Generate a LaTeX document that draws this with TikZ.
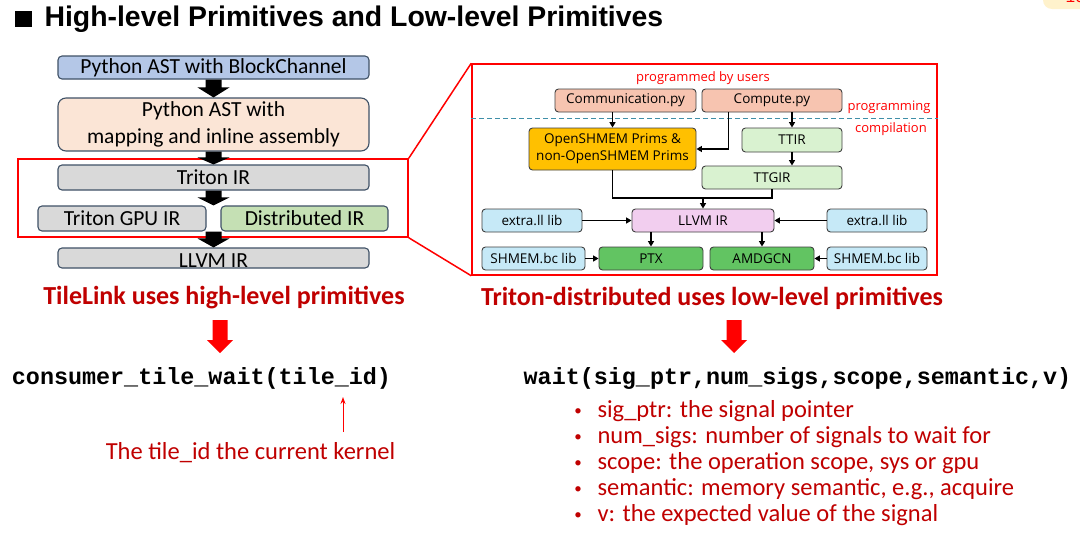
\documentclass[tikz,border=0pt]{standalone}
\usepackage{fontspec}
\setmainfont{Carlito}
\newfontfamily\headfont{Liberation Sans}
\newfontfamily\flowfont{Open Sans}
\newfontfamily\codefont{Liberation Mono}
\usepackage{xcolor}
\usepackage{tikz}
\usetikzlibrary{calc,arrows.meta}
\definecolor{edge}{HTML}{3F5166}
\definecolor{astblue}{HTML}{B4C7E7}
\definecolor{peach}{HTML}{FBE5D6}
\definecolor{irgray}{HTML}{D9D9D9}
\definecolor{irgreen}{HTML}{C5E0B4}
\definecolor{rim}{HTML}{404040}
\definecolor{salmon}{HTML}{F7C4B0}
\definecolor{prims}{HTML}{FFC000}
\definecolor{mint}{HTML}{D9F2D0}
\definecolor{lilac}{HTML}{F2CEEF}
\definecolor{sky}{HTML}{C6E9F7}
\definecolor{leaf}{HTML}{62C462}
\definecolor{darkred}{HTML}{C00000}
\definecolor{alert}{HTML}{FF0000}
\definecolor{teal}{HTML}{3F8FA8}
\definecolor{cream}{HTML}{FFF2CC}
\tikzset{
  lbox/.style={draw=edge, line width=1.1pt, rounded corners=4pt, inner sep=0pt, text=black, font=\fontsize{21.5}{27}\selectfont},
  rbox/.style={draw=rim, line width=0.9pt, rounded corners=3.5pt, inner sep=0pt, text=black, font=\flowfont\fontsize{13.5}{16}\selectfont},
  frame/.style={draw=alert, line width=1.5pt, inner sep=0pt},
  conn/.style={draw=black, line width=1.6pt, -{Triangle[length=5.5pt,width=6pt]}},
  wire/.style={draw=black, line width=1.6pt},
  note/.style={text=alert, font=\flowfont\fontsize{13}{15}\selectfont},
  headline/.style={text=darkred, font=\bfseries\fontsize{26}{30}\selectfont},
  remark/.style={text=darkred, font=\fontsize{24.5}{28}\selectfont},
  code/.style={text=black, font=\codefont\bfseries\fontsize{23.4}{28}\selectfont},
  pointer/.style={draw=alert, line width=0.9pt, -{Stealth[length=7pt,width=5pt]}}
}
% colour, half shaft, half head, head length, from, to
\newcommand\blockdown[6]{%
  \fill[#1] let \p1=(#5), \p2=(#6) in
    (\x1-#2,\y1) -- (\x1+#2,\y1) -- (\x1+#2,\y2+#4) -- (\x1+#3,\y2+#4)
    -- (\x1,\y2) -- (\x1-#3,\y2+#4) -- (\x1-#2,\y2+#4) -- cycle;}

\begin{document}
\begin{tikzpicture}[x=1pt, y=-1pt]
  \useasboundingbox (0,0) rectangle (1080,533);
  \fill[white] (0,0) rectangle (1080,533);
  \begin{scope}
    \clip (0,0) rectangle (1080,533);
    \fill[cream, rounded corners=9pt] (1043,-20) rectangle (1110,9);
    \node[text=alert, font=\codefont\fontsize{16}{16}\selectfont, anchor=west] (page) at (1062,-3) {10};
  \end{scope}

  % title
  \fill[black] (15,11) rectangle (32,27);
  \node[anchor=west, font=\headfont\bfseries\fontsize{28.4}{32}\selectfont] (title) at (41,19) {High-level Primitives and Low-level Primitives};

  % left: compilation stack
  \node[frame, minimum width=390pt, minimum height=78pt] (hlframe) at (213,198) {};
  \node[lbox, fill=astblue, minimum width=311pt, minimum height=23pt] (ast) at (213.5,67.5) {Python AST with BlockChannel};
  \node[lbox, fill=peach, rounded corners=8pt, align=center, minimum width=311pt, minimum height=53pt] (astmap) at (213.5,124.5) {Python AST with\\mapping and inline assembly};
  \node[lbox, fill=irgray, minimum width=311pt, minimum height=25pt] (tir) at (213.5,177.5) {Triton IR};
  \node[lbox, fill=irgray, minimum width=168pt, minimum height=25pt] (tgpu) at (122,218.5) {Triton GPU IR};
  \node[lbox, fill=irgreen, minimum width=167pt, minimum height=25pt] (dist) at (304.5,218.5) {Distributed IR};
  \node[lbox, fill=irgray, minimum width=311pt, minimum height=20pt] (llvm) at (213.5,258) {};
  \node[font=\fontsize{21.5}{24}\selectfont, anchor=base] (llvmtxt) at ($(llvm.south)+(0,-1)$) {LLVM IR};

  \blockdown{black}{8pt}{16pt}{10pt}{ast.south}{astmap.north}
  \blockdown{black}{8pt}{16pt}{7pt}{astmap.south}{tir.north}
  \blockdown{black}{8pt}{16pt}{8pt}{tir.south}{tir.south |- tgpu.north}
  \blockdown{black}{8pt}{16pt}{9pt}{llvm.north |- tgpu.south}{llvm.north}

  % zoom into the red box
  \node[frame, minimum width=465pt, minimum height=211pt] (llframe) at (704.5,169.5) {};
  \draw[frame] (hlframe.north east) -- (llframe.north west);
  \draw[frame] (hlframe.south east) -- (llframe.south west);

  % right: triton-distributed flow
  \coordinate (cut) at (0,118);
  \draw[teal, line width=1pt, dash pattern=on 5pt off 3pt] (llframe.west |- cut) -- (llframe.east |- cut);
  \node[note] (users) at (703,78) {programmed by users};
  \node[note] (prog) at (889,107) {programming};
  \node[note] (compil) at (891,129) {compilation};

  \node[rbox, fill=salmon, minimum width=141pt, minimum height=23pt] (comm) at (625.5,100.5) {Communication.py};
  \node[rbox, fill=salmon, minimum width=140pt, minimum height=23pt] (comp) at (772,100.5) {Compute.py};
  \node[rbox, fill=prims, align=center, font=\flowfont\fontsize{13.5}{17}\selectfont, minimum width=167pt, minimum height=42pt] (shmem) at (612.5,149) {OpenSHMEM Prims \&\\non-OpenSHMEM Prims};
  \node[rbox, fill=mint, minimum width=100pt, minimum height=24pt] (ttir) at (792,140) {TTIR};
  \node[rbox, fill=mint, minimum width=140pt, minimum height=23pt] (ttgir) at (772,177.5) {TTGIR};
  \node[rbox, fill=lilac, minimum width=142pt, minimum height=23pt] (llvmr) at (703,220.5) {LLVM IR};
  \node[rbox, fill=sky, minimum width=100pt, minimum height=23pt] (extl) at (532,220.5) {extra.ll lib};
  \node[rbox, fill=sky, minimum width=100pt, minimum height=23pt] (extr) at (877,220.5) {extra.ll lib};
  \node[rbox, fill=sky, minimum width=103pt, minimum height=23pt] (bcl) at (533.5,258.5) {SHMEM.bc lib};
  \node[rbox, fill=leaf, minimum width=104pt, minimum height=23pt] (ptx) at (651,258.5) {PTX};
  \node[rbox, fill=leaf, minimum width=104pt, minimum height=23pt] (amd) at (762,258.5) {AMDGCN};
  \node[rbox, fill=sky, minimum width=100pt, minimum height=23pt] (bcr) at (877,258.5) {SHMEM.bc lib};

  \coordinate (mj) at (703,198);
  \draw[conn] (shmem.north |- comm.south) -- (shmem.north);
  \draw[conn] ($(comp.south west)!0.19!(comp.south east)$) |- (shmem.east);
  \draw[conn] (ttir.north |- comp.south) -- (ttir.north);
  \draw[conn] (ttir.south) -- (ttir.south |- ttgir.north);
  \draw[wire] (shmem.south) |- (mj);
  \draw[wire] (ttgir.south) |- (mj);
  \draw[conn] (mj) -- (llvmr.north);
  \draw[conn] (extl) -- (llvmr);
  \draw[conn] (extr) -- (llvmr);
  \draw[conn] (ptx.north |- llvmr.south) -- (ptx.north);
  \draw[conn] (amd.north |- llvmr.south) -- (amd.north);
  \draw[conn] (bcl) -- (ptx);
  \draw[conn] (bcr) -- (amd);

  % bottom: the two primitives
  \node[headline] (hltitle) at (224,298) {TileLink uses high-level primitives};
  \node[headline] (lltitle) at (712,298) {Triton-distributed uses low-level primitives};
  \coordinate (ha) at (220,320);
  \coordinate (hb) at (220,353);
  \coordinate (la) at (734,320);
  \coordinate (lb) at (734,353);
  \blockdown{alert}{7.5pt}{13pt}{13pt}{ha}{hb}
  \blockdown{alert}{7.5pt}{13pt}{13pt}{la}{lb}

  \node[code] (hlcode) at (201.5,378) {consumer\_tile\_wait(tile\_id)};
  \node[code] (llcode) at (797.5,378) {wait(sig\_ptr,num\_sigs,scope,semantic,v)};

  \coordinate (tail) at (343,432);
  \coordinate (tip) at (343,397);
  \draw[pointer] (tail) -- (tip);
  \node[remark] (idnote) at (250.5,453) {The tile\_id the current kernel};

  \foreach \txt [count=\i] in {sig\_ptr: the signal pointer, num\_sigs: number of signals to wait for, {scope: the operation scope, sys or gpu}, {semantic: memory semantic, e.g., acquire}, v: the expected value of the signal}{
    \node[text=darkred, font=\fontsize{15}{15}\selectfont] (dot\i) at (578,{412+26*(\i-1)}) {\textbullet};
    \node[remark, anchor=west] (item\i) at (594,{411+26*(\i-1)}) {\txt};
  }
\end{tikzpicture}
\end{document}
